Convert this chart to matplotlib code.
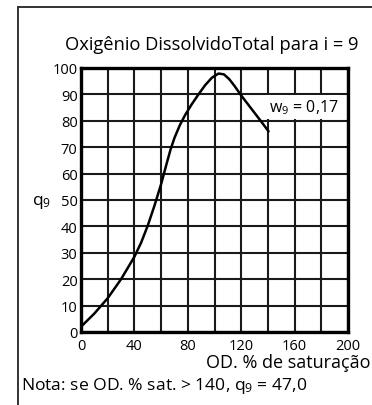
import matplotlib
matplotlib.use("Agg")
import matplotlib.pyplot as plt
from matplotlib.lines import Line2D

# ── Data ──────────────────────────────────────────────────────────────────────
od_sat = [0, 10, 20, 30, 40, 45, 50, 55, 60, 64, 67, 70, 74, 78, 83, 88,
          93, 98, 103, 107, 111, 115, 120, 125, 130, 135, 140.5]
q9 = [2, 7, 12.8, 20, 28.5, 33.8, 40.3, 47.8, 56, 63.5, 69, 73.5, 78.3, 82.2,
      86.3, 90, 93.5, 96.3, 97.9, 97.6, 95.8, 93.2, 89.6, 86.3, 83, 79.7, 76]

x_ticks = [0, 40, 80, 120, 160, 200]
y_ticks = [0, 10, 20, 30, 40, 50, 60, 70, 80, 90, 100]

FONT = "Open Sans"
plt.rcParams["font.family"] = [FONT, "DejaVu Sans"]
plt.rcParams["mathtext.fontset"] = "custom"
plt.rcParams["mathtext.rm"] = FONT
plt.rcParams["mathtext.it"] = FONT

fig = plt.figure(figsize=(3.72, 4.06), dpi=100)
ax = fig.add_axes([81 / 372, 1 - 333 / 406, 267 / 372, 264 / 406])

ax.plot(od_sat, q9, color="black", lw=1.8, zorder=3,
        solid_joinstyle="round", solid_capstyle="round")

ax.set_xlim(0, 200)
ax.set_ylim(0, 100)
ax.set_xticks(range(0, 201, 20))
ax.set_xticklabels([str(v) if v in x_ticks else "" for v in range(0, 201, 20)])
ax.set_yticks(y_ticks)
ax.set_yticklabels([str(v) for v in y_ticks])
ax.grid(True, color="#1a1a1a", lw=1.5)
ax.tick_params(length=0, labelsize=10.5)
ax.tick_params(axis="x", pad=4)
ax.tick_params(axis="y", pad=2.5)
for sp in ax.spines.values():
    sp.set_linewidth(2.4)

fig.text(212 / 372, 1 - 45 / 406, "Oxigênio DissolvidoTotal para i = 9",
         ha="center", va="center", fontsize=13.2)
ax.text(167, 85.3, r"w$_9$ = 0,17", ha="center", va="center", fontsize=11.5,
        bbox=dict(facecolor="white", edgecolor="none", pad=2.0), zorder=4)

fig.text(42 / 372, 1 - 203 / 406, r"q$_9$", ha="center", va="center", fontsize=12.5)
fig.text(370 / 372, 1 - 363 / 406, "OD. % de saturação", ha="right", va="center",
         fontsize=13)
fig.text(21 / 372, 1 - 386 / 406, r"Nota: se OD. % sat. > 140, q$_9$ = 47,0",
         ha="left", va="center", fontsize=12.6)

# outer frame (left and top only)
fig.add_artist(Line2D([17.5 / 372, 17.5 / 372], [0, 1 - 7.5 / 406],
                      transform=fig.transFigure, color="#333333", lw=1.4))
fig.add_artist(Line2D([17.5 / 372, 1], [1 - 7.5 / 406, 1 - 7.5 / 406],
                      transform=fig.transFigure, color="#333333", lw=1.4))

fig.savefig("out.png", dpi=100)
